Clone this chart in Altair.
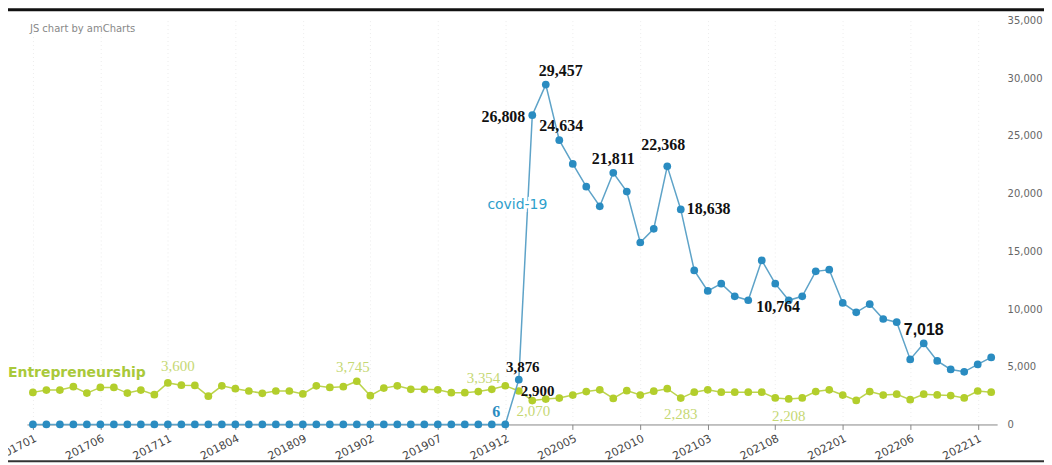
import altair as alt
import pandas as pd

months = [f"{y}{m:02d}" for y in range(2017, 2023) for m in range(1, 13)]
tick_labels = ["201701", "201706", "201711", "201804", "201809", "201902", "201907",
               "201912", "202005", "202010", "202103", "202108", "202201", "202206", "202211"]
y_ticks = [0, 5000, 10000, 15000, 20000, 25000, 30000, 35000]

covid = [0, 0, 0, 0, 0, 0, 0, 0, 0, 0, 0, 0,
         0, 0, 0, 0, 0, 0, 0, 0, 0, 0, 0, 0,
         0, 0, 0, 0, 0, 0, 0, 0, 0, 0, 0, 6,
         3876, 26808, 29457, 24634, 22580, 20610, 18910, 21811, 20180, 15770, 16960, 22368,
         18638, 13350, 11570, 12200, 11110, 10764, 14220, 12200, 10760, 11110, 13270, 13410,
         10530, 9720, 10420, 9140, 8860, 5640, 7018, 5510, 4770, 4560, 5200, 5810]

entre = [2780, 2980, 2980, 3270, 2720, 3210, 3210, 2720, 2980, 2580, 3600, 3400,
         3380, 2450, 3350, 3100, 2900, 2700, 2900, 2900, 2650, 3350, 3210, 3270,
         3745, 2490, 3150, 3350, 3050, 3050, 3000, 2750, 2750, 2850, 3050, 3354,
         2900, 2070, 2200, 2290, 2550, 2850, 3000, 2260, 2930, 2550, 2880, 3100,
         2283, 2800, 3000, 2800, 2800, 2800, 2800, 2300, 2208, 2300, 2850, 3000,
         2550, 2080, 2850, 2550, 2620, 2150, 2620, 2560, 2500, 2300, 2900, 2800]

df = pd.DataFrame({
    "month": months + months,
    "value": covid + entre,
    "series": ["covid-19"] * len(months) + ["Entrepreneurship"] * len(months),
})

BLUE_DOT = "#2a8cc1"
BLUE_LINE = "#5ea3c8"
GREEN_DOT = "#b3ce2c"
GREEN_LINE = "#bcd44e"
GREEN_TXT = "#c6d874"

x_enc = alt.X("month:O", title=None,
              scale=alt.Scale(type="point", padding=0.44),
              axis=alt.Axis(values=tick_labels, labelAngle=-27, labelAlign="right",
                            labelBaseline="top", labelFont="DejaVu Sans", labelFontSize=11,
                            labelColor="#444", labelPadding=3, tickSize=5, tickColor="#888",
                            domainColor="#888", grid=True, gridColor="#ececec",
                            gridDash=[1, 3], labelOverlap=False))
y_enc = alt.Y("value:Q", title=None,
              scale=alt.Scale(domain=[0, 35000], nice=False, zero=True),
              axis=alt.Axis(orient="right", values=y_ticks, format=",.0f", grid=False,
                            domain=False, ticks=False, labelPadding=10,
                            labelFont="DejaVu Sans", labelFontSize=10, labelColor="#666"))

base = alt.Chart(df).encode(x=x_enc, y=y_enc)

green = base.transform_filter(alt.datum.series == "Entrepreneurship")
blue = base.transform_filter(alt.datum.series == "covid-19")

layers = [
    green.mark_line(color=GREEN_LINE, strokeWidth=1.5),
    green.mark_circle(color=GREEN_DOT, size=60, opacity=1),
    blue.mark_line(color=BLUE_LINE, strokeWidth=1.5),
    blue.mark_circle(color=BLUE_DOT, size=60, opacity=1),
]


def value_label(series, month, color, font, size, weight, align, dx, dy):
    return base.transform_filter(
        (alt.datum.series == series) & (alt.datum.month == month)
    ).mark_text(color=color, font=font, fontSize=size, fontWeight=weight,
                align=align, baseline="middle", dx=dx, dy=dy
                ).encode(text=alt.Text("value:Q", format=","))


SERIF = "Liberation Serif"
layers += [
    value_label("covid-19", "201912", BLUE_DOT, SERIF, 16, "bold", "right", -5, -12),
    value_label("covid-19", "202001", "#111", SERIF, 15, "bold", "center", 4, -13),
    value_label("covid-19", "202002", "#111", SERIF, 16, "bold", "right", -7, 2),
    value_label("covid-19", "202003", "#111", SERIF, 16, "bold", "center", 15, -14),
    value_label("covid-19", "202004", "#111", SERIF, 16, "bold", "center", 2, -14),
    value_label("covid-19", "202008", "#111", SERIF, 16, "bold", "center", 0, -14),
    value_label("covid-19", "202012", "#111", SERIF, 16, "bold", "center", -4, -21),
    value_label("covid-19", "202101", "#111", SERIF, 16, "bold", "left", 6, 0),
    value_label("covid-19", "202106", "#111", SERIF, 16, "bold", "left", 8, 7),
    value_label("covid-19", "202207", "#111", "Liberation Sans", 16, "bold", "center", 0, -14),
    value_label("Entrepreneurship", "201711", GREEN_TXT, SERIF, 15, "normal", "center", 10, -17),
    value_label("Entrepreneurship", "201901", GREEN_TXT, SERIF, 15, "normal", "center", -4, -14),
    value_label("Entrepreneurship", "201912", GREEN_TXT, SERIF, 15, "normal", "right", -5, -8),
    value_label("Entrepreneurship", "202001", "#111", SERIF, 15, "bold", "left", 2, 0),
    value_label("Entrepreneurship", "202002", GREEN_TXT, SERIF, 15, "normal", "center", 1, 10),
    value_label("Entrepreneurship", "202101", GREEN_TXT, SERIF, 15, "normal", "center", 0, 16),
    value_label("Entrepreneurship", "202109", GREEN_TXT, SERIF, 15, "normal", "center", 0, 17),
]

# series name labels
covid_anchor = blue.transform_filter(alt.datum.month == "202002")
layers += [
    covid_anchor.mark_text(text="covid-19", font="DejaVu Sans", fontSize=14, color="white",
                           stroke="white", strokeWidth=6, dx=-15, dy=90, align="center"),
    covid_anchor.mark_text(text="covid-19", font="DejaVu Sans", fontSize=14, color="#2ea0cc",
                           dx=-15, dy=90, align="center"),
    green.transform_filter(alt.datum.month == "201701").mark_text(
        text="Entrepreneurship", font="DejaVu Sans", fontSize=14, fontWeight="bold",
        color="#a9c93a", align="left", dx=-25, dy=-19),
]

# decorations
deco = alt.Chart(alt.Data(values=[{}]))
layers += [
    deco.mark_text(text="JS chart by amCharts", font="DejaVu Sans", fontSize=10,
                   color="#888", align="left", baseline="middle").encode(
        x=alt.value(3), y=alt.value(8)),
    deco.mark_rule(color="#111", strokeWidth=3).encode(
        x=alt.value(-19), x2=alt.value(1020), y=alt.value(-11)),
    deco.mark_rule(color="#333", strokeWidth=2).encode(
        x=alt.value(-19), x2=alt.value(1020), y=alt.value(442)),
]

chart = alt.layer(*layers).properties(
    width=973, height=405,
    padding={"left": 19, "top": 12, "right": 47, "bottom": 40},
    autosize=alt.AutoSizeParams(type="none"),
    background="white",
).configure_view(stroke=None)

chart.save("out.html", embed_options={"renderer": "svg", "actions": False})
